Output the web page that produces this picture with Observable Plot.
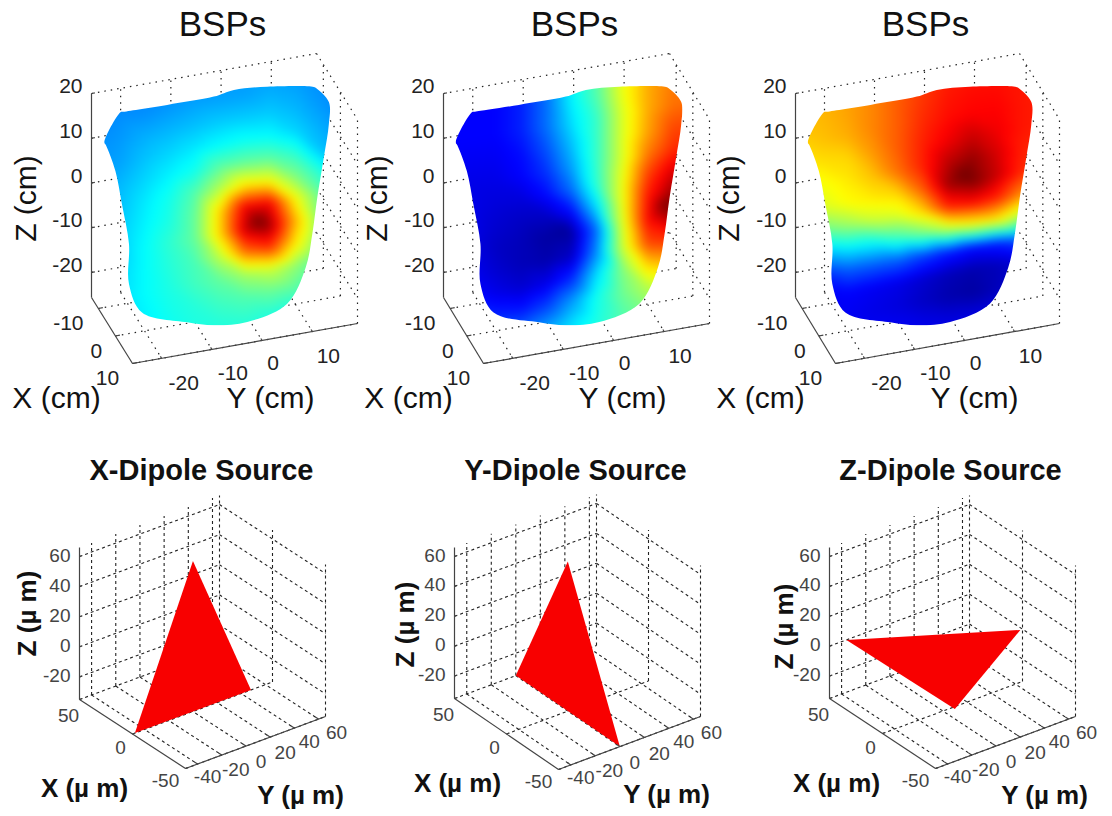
<!DOCTYPE html>
<html><head><meta charset="utf-8">
<style>html,body{margin:0;padding:0;background:#fff}svg{display:block}</style>
<script src="https://cdn.jsdelivr.net/npm/d3@7"></script>
<script src="https://cdn.jsdelivr.net/npm/@observablehq/plot@0.6"></script>
</head><body><div id="c"></div>
<script>
// ---- data values ----
const bspTitle = "BSPs";
const dipoleTitles = ["X-Dipole Source","Y-Dipole Source","Z-Dipole Source"];
const cmXTicks = [-10,0,10];
const cmYTicks = [-20,-10,0,10];
const cmZTicks = [-20,-10,0,10,20];
const umXTicks = [-50,0,50];
const umYTicks = [-40,-20,0,20,40,60];
const umZTicks = [-20,0,20,40,60];

// torso outline on the x = 0 plane: [y cm, z cm]
const torsoOutline = [[-28,18.1],[-24.8,24.2],[-24.2,24.2],[-15.5,24],[-6.2,24],[-2.2,24.7],[4.4,24.1],[13.7,22.2],[14.2,21.8],[16.7,18.2],[16.7,13.3],[15.7,6.1],[14.4,-2.6],[13.4,-10.6],[12.1,-17.8],[8.4,-25.2],[.45,-27.7],[-6.2,-27.1],[-11.5,-25.4],[-20.5,-21.4],[-23.1,-14.5],[-23.1,-5.6],[-24.5,3.6],[-25.8,11.3],[-27.7,17.5]];

// potential, on a jet scale 0..1
const sampleY = [-30,-25,-20,-15,-10,-5,0,5,10,15,20];
const sampleZ = [28,23,18,13,8,3,-2,-7,-12,-17,-22,-27,-32];
const fieldX = [
[.24,.24,.24,.25,.25,.26,.26,.26,.26,.25,.24],
[.24,.25,.25,.26,.27,.27,.27,.28,.27,.25,.24],
[.25,.26,.28,.29,.30,.31,.31,.31,.29,.26,.24],
[.26,.27,.30,.32,.34,.36,.37,.36,.32,.28,.25],
[.28,.29,.32,.35,.38,.46,.47,.46,.41,.30,.27],
[.29,.30,.34,.38,.45,.56,.66,.63,.50,.40,.30],
[.30,.31,.35,.39,.47,.68,.90,.89,.64,.47,.35],
[.30,.31,.36,.41,.47,.68,.93,.96,.72,.50,.40],
[.31,.32,.36,.40,.44,.57,.78,.84,.66,.50,.40],
[.32,.33,.36,.39,.43,.47,.54,.58,.52,.44,.38],
[.32,.33,.35,.38,.40,.43,.45,.47,.46,.40,.35],
[.32,.33,.35,.37,.39,.40,.41,.40,.38,.36,.33],
[.32,.33,.34,.36,.37,.38,.38,.37,.36,.34,.32]];
const fieldY = [
[.11,.11,.11,.14,.22,.36,.46,.62,.72,.76,.76],
[.11,.11,.11,.14,.22,.35,.45,.62,.72,.77,.77],
[.11,.11,.11,.14,.22,.33,.42,.60,.72,.78,.78],
[.10,.10,.10,.12,.19,.30,.42,.60,.73,.82,.82],
[.09,.09,.09,.11,.16,.27,.42,.60,.77,.85,.85],
[.09,.09,.08,.08,.12,.22,.41,.62,.83,.92,.92],
[.09,.09,.07,.06,.06,.12,.33,.62,.87,.97,.97],
[.09,.09,.06,.05,.03,.03,.22,.60,.88,.96,.96],
[.10,.10,.07,.05,.04,.06,.25,.58,.82,.85,.85],
[.12,.12,.09,.07,.09,.15,.33,.50,.68,.72,.72],
[.17,.17,.14,.13,.17,.26,.38,.48,.56,.60,.60],
[.20,.20,.20,.22,.27,.33,.39,.45,.50,.50,.50],
[.20,.20,.20,.22,.27,.33,.39,.45,.50,.50,.50]];
const fieldZ = [
[.70,.71,.73,.76,.80,.83,.86,.87,.87,.86,.85],
[.70,.71,.73,.76,.80,.84,.87,.88,.88,.87,.86],
[.68,.70,.72,.76,.80,.85,.88,.89,.89,.87,.86],
[.65,.67,.68,.74,.80,.86,.90,.93,.90,.87,.86],
[.63,.63,.66,.70,.78,.86,.94,.97,.92,.86,.85],
[.60,.60,.64,.66,.68,.80,.96,.99,.93,.85,.84],
[.46,.48,.53,.58,.60,.68,.85,.88,.85,.75,.70],
[.28,.30,.35,.36,.42,.48,.56,.62,.64,.55,.50],
[.14,.15,.20,.20,.20,.17,.14,.12,.14,.20,.22],
[.10,.10,.11,.10,.09,.07,.05,.04,.05,.08,.10],
[.12,.11,.10,.09,.08,.06,.04,.03,.05,.08,.10],
[.12,.11,.11,.10,.10,.09,.08,.08,.09,.10,.11],
[.12,.11,.11,.11,.10,.10,.10,.10,.10,.10,.11]];
// extreme points: [y, z, value]
const peaksX = [[2.7,-5.9,1]];
const peaksY = [[-5.9,-6,.02],[13.7,-3.9,1]];
const peaksZ = [[3.1,4.5,1]];

// dipole triangles: [x, y, z] in µm
const triangleX = [[0,-48,-35],[0,0,65],[0,48,-35]];
const triangleY = [[50,0,-35],[0,0,65],[-50,0,-35]];
const triangleZ = [[50,-36,0],[0,64,0],[-50,-34,0]];

// ---- layout ----
const topBox = {xA:-14,xF:10,y0:-25.8,y1:19,z0:-25.6,z1:20,zTopPx:93,xt:cmXTicks,yt:cmYTicks,zt:cmZTicks};
const botBox = {xA:50,xF:-50,y0:-50,y1:65.8,z0:-35,z1:66,zTopPx:547,xt:umXTicks,yt:umYTicks,zt:umZTicks};
const panels = [
 {...topBox,A:[91,297],F:[132,363],R:[357,323],field:fieldX,peaks:peaksX},
 {...topBox,A:[443,297],F:[483,363],R:[709,323],field:fieldY,peaks:peaksY},
 {...topBox,A:[795,297],F:[835,363],R:[1059,323],field:fieldZ,peaks:peaksZ},
 {...botBox,A:[79,699],F:[185,768],R:[325,716],tri:triangleX},
 {...botBox,A:[454,698],F:[558,769],R:[700,716],tri:triangleY},
 {...botBox,A:[829,698],F:[935,768],R:[1075,716],tri:triangleZ}
];
panels.forEach(p=>{
 p.project=(x,y,z)=>{
  const a=(x-p.xA)/(p.xF-p.xA), b=(y-p.y0)/(p.y1-p.y0), c=(z-p.z0)/(p.z1-p.z0);
  return [p.A[0]+a*(p.F[0]-p.A[0])+b*(p.R[0]-p.F[0]),
          p.A[1]+a*(p.F[1]-p.A[1])+b*(p.R[1]-p.F[1])+c*(p.zTopPx-p.A[1])];
 };
});
const seg=(p,a,b)=>{const s=p.project(...a),e=p.project(...b);return {x1:s[0],y1:s[1],x2:e[0],y2:e[1]};};
const grid=[],axes=[];
panels.forEach((p,i)=>{
 const {xA,xF,y0,y1,z0,z1}=p, rows=grid;
 p.zt.forEach(z=>{rows.push({...seg(p,[xA,y0,z],[xA,y1,z]),i});rows.push({...seg(p,[xA,y1,z],[xF,y1,z]),i});
   axes.push(seg(p,[xA,y0,z],[xA,y0+(y1-y0)*.015,z]));});
 p.yt.forEach(y=>{rows.push({...seg(p,[xA,y,z0],[xA,y,z1]),i});rows.push({...seg(p,[xA,y,z0],[xF,y,z0]),i});
   axes.push(seg(p,[xF,y,z0],[xF+(xA-xF)*.03,y,z0]));});
 p.xt.forEach(x=>{rows.push({...seg(p,[x,y1,z0],[x,y1,z1]),i});rows.push({...seg(p,[x,y0,z0],[x,y1,z0]),i});
   axes.push(seg(p,[x,y0,z0],[x,y0+(y1-y0)*.02,z0]));});
 axes.push(seg(p,[xA,y0,z0],[xA,y0,z1]),seg(p,[xA,y0,z0],[xF,y0,z0]),seg(p,[xF,y0,z0],[xF,y1,z0]));
});
const dottedGrid=grid.filter(d=>d.i<3), dashedGrid=grid.filter(d=>d.i>=3);

// offsets of tick labels from their ticks
const cmXOff={"-10":[-30,15],"0":[-19,15],"10":[-25,15]};
const cmYOff={"-20":[22,25],"-10":[21,24],"0":[11,23],"10":[16,25]};
const umXOff={"50":[-11,16],"0":[-12,14],"-50":[-20,12]};
const umYOff={"-40":[10,13],"-20":[14,15],"0":[15,16],"20":[15,16],"40":[15,14],"60":[18,14]};
const tickLabelsZ=[],tickLabelsC=[];
panels.forEach((p,i)=>{
 const top=i<3, xo=top?cmXOff:umXOff, yo=top?cmYOff:umYOff, dz=top?-7:-1;
 p.zt.forEach(z=>{const q=p.project(p.xA,p.y0,z);tickLabelsZ.push({t:String(z),x:q[0]-9,y:q[1]+dz,top});});
 p.xt.forEach(x=>{const q=p.project(x,p.y0,p.z0);tickLabelsC.push({t:String(x),x:q[0]+xo[x][0],y:q[1]+xo[x][1],top});});
 p.yt.forEach(y=>{const q=p.project(p.xF,y,p.z0);tickLabelsC.push({t:String(y),x:q[0]+yo[y][0],y:q[1]+yo[y][1],top});});
});
const titles=[[222,bspTitle],[574,bspTitle],[925,bspTitle]].map(([x,t])=>({x,t,y:35}));
const subTitles=[[201,0],[575,1],[950,2]].map(([x,k])=>({x,t:dipoleTitles[k],y:479}));
const cmTitles=[0,352,704].flatMap(s=>[{x:56+s,y:398,t:"X (cm)"},{x:270+s,y:398,t:"Y (cm)"}]);
const cmZTitles=[26,377,729].map(x=>({x,y:198,t:"Z (cm)"}));
const umTitles=[{x:84,y:788,t:"X (µ m)"},{x:300,y:795,t:"Y (µ m)"},{x:457,y:783,t:"X (µ m)"},{x:666,y:794,t:"Y (µ m)"},{x:836,y:783,t:"X (µ m)"},{x:1044,y:795,t:"Y (µ m)"}];
const umZTitles=[{x:27,y:613},{x:405,y:624},{x:784,y:626}].map(d=>({...d,t:"Z (µ m)"}));

const font="Liberation Sans, Arial, sans-serif";
const txt=(data,o)=>Plot.text(data,{x:"x",y:"y",text:"t",fontFamily:font,lineAnchor:"middle",...o});

const rasters=panels.slice(0,3).map(p=>{
 const s=[];
 sampleZ.forEach((z,r)=>sampleY.forEach((y,c)=>{const q=p.project(0,y,z);s.push({px:q[0],py:q[1],v:p.field[r][c]});}));
 p.peaks.forEach(([y,z,v])=>{const q=p.project(0,y,z);s.push({px:q[0],py:q[1],v});});
 return Plot.raster(s,{x:"px",y:"py",fill:"v",interpolate:"barycentric"});
});
const triangles=panels.slice(3).map(p=>Plot.line(p.tri.concat([p.tri[0]]).map(v=>p.project(...v)),{x:d=>d[0],y:d=>d[1],fill:"#f80000",stroke:"none"}));

const chart=Plot.plot({
 width:1112,height:816,margin:0,
 x:{domain:[0,1112],axis:null},
 y:{domain:[816,0],axis:null},
 color:{type:"linear",domain:[0,.11,.36,.5,.64,.89,1],range:["#000080","#0000ff","#00ffff","#80ff80","#ffff00","#ff0000","#700000"],clamp:true},
 marks:[
  Plot.link(dottedGrid,{x1:"x1",y1:"y1",x2:"x2",y2:"y2",stroke:"#222",strokeWidth:1.2,strokeDasharray:"1.5,5"}),
  Plot.link(dashedGrid,{x1:"x1",y1:"y1",x2:"x2",y2:"y2",stroke:"#222",strokeWidth:1.1,strokeDasharray:"3,3"}),
  ...rasters,
  ...triangles,
  Plot.link(axes,{x1:"x1",y1:"y1",x2:"x2",y2:"y2",stroke:"#444",strokeWidth:1.2}),
  txt(tickLabelsZ.filter(d=>d.top),{fontSize:21,fill:"#222",textAnchor:"end"}),
  txt(tickLabelsC.filter(d=>d.top),{fontSize:21,fill:"#222"}),
  txt(tickLabelsZ.filter(d=>!d.top),{fontSize:19,fill:"#444",textAnchor:"end"}),
  txt(tickLabelsC.filter(d=>!d.top),{fontSize:19,fill:"#444"}),
  txt(titles,{fontSize:35,fill:"#111",lineAnchor:"bottom"}),
  txt(subTitles,{fontSize:29,fontWeight:"bold",fill:"#111",lineAnchor:"bottom"}),
  txt(cmTitles,{fontSize:30,fill:"#111"}),
  txt(cmZTitles,{fontSize:30,fill:"#111",rotate:-90}),
  txt(umTitles,{fontSize:26,fontWeight:"bold",fill:"#111"}),
  txt(umZTitles,{fontSize:26,fontWeight:"bold",fill:"#111",rotate:-90})
 ]
});
// clip each raster to the torso outline, through the plot's own scales, and soften the facets
const ns="http://www.w3.org/2000/svg";
const defs=document.createElementNS(ns,"defs");chart.prepend(defs);
const sx=chart.scale("x"),sy=chart.scale("y");
const outlinePath=d3.line().curve(d3.curveCatmullRomClosed.alpha(.5));
chart.querySelectorAll("image").forEach((im,i)=>{
 const cp=document.createElementNS(ns,"clipPath");cp.setAttribute("id","torso"+i);
 const pg=document.createElementNS(ns,"path");
 pg.setAttribute("d",outlinePath(torsoOutline.map(([y,z])=>{const q=panels[i].project(0,y,z);return [sx.apply(q[0]),sy.apply(q[1])];})));
 cp.appendChild(pg);defs.appendChild(cp);
 im.style.filter="blur(5px)";
 im.parentNode.setAttribute("clip-path","url(#torso"+i+")");
});
document.getElementById("c").appendChild(chart);
</script></body></html>
